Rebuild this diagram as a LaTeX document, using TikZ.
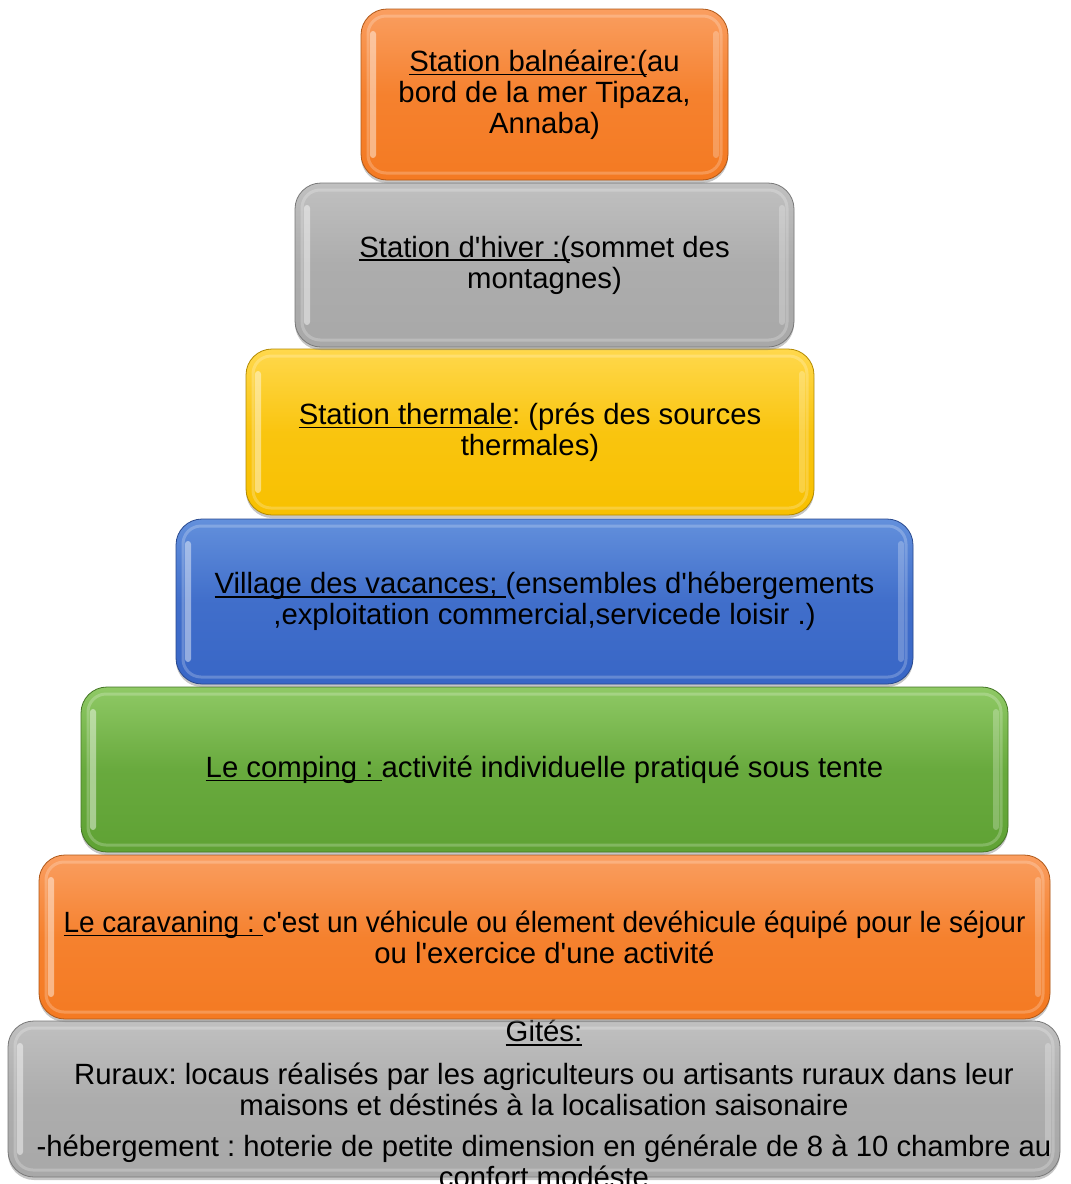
\documentclass[tikz,border=0pt]{standalone}
\usepackage{fontspec}
\setmainfont[Ligatures=TeXOff]{Liberation Sans}
\newfontfamily\narrowfont[Ligatures=TeXOff,FakeStretch=0.955]{Liberation Sans}
\usetikzlibrary{shadows}

\definecolor{orTop}{HTML}{FA9E60}
\definecolor{orBot}{HTML}{F47A22}
\definecolor{grTop}{HTML}{C0C0C0}
\definecolor{grBot}{HTML}{A8A8A8}
\definecolor{yeTop}{HTML}{FFD84C}
\definecolor{yeBot}{HTML}{F8C000}
\definecolor{blTop}{HTML}{6390DC}
\definecolor{blBot}{HTML}{3866C6}
\definecolor{gnTop}{HTML}{8FC965}
\definecolor{gnBot}{HTML}{5FA234}

\newcommand\tierfont{\fontsize{29.3}{31}\selectfont\frenchspacing}
% underline drawn as a rule just below the baseline (keeps trailing spaces)
\newsavebox\ulbox
\newcommand\ulx[1]{\sbox\ulbox{#1}\rlap{\rule[-3.8pt]{\wd\ulbox}{1.4pt}}\usebox\ulbox}

\tikzset{
  tier/.style n args={2}{
    draw=#2!72!black, line width=0.8pt, rounded corners=26pt,
    top color=#1, bottom color=#2, middle color=#2!80!#1,
    drop shadow={shadow xshift=0pt, shadow yshift=-3pt, opacity=0.45},
    inner sep=0pt, align=center, font=\tierfont, text=black,
    path picture={
      % soft bevel along the inner rim
      \draw[white, opacity=0.22, line width=3pt, rounded corners=18pt]
        ([xshift=7pt,yshift=-7pt]path picture bounding box.north west)
        rectangle ([xshift=-7pt,yshift=7pt]path picture bounding box.south east);
      % light strips on the left and right sides
      \fill[white, opacity=0.45, rounded corners=3pt]
        ([xshift=9pt,yshift=-22pt]path picture bounding box.north west)
        rectangle ([xshift=15pt,yshift=22pt]path picture bounding box.south west);
      \fill[white, opacity=0.25, rounded corners=3pt]
        ([xshift=-15pt,yshift=-22pt]path picture bounding box.north east)
        rectangle ([xshift=-9pt,yshift=22pt]path picture bounding box.south east);
    }
  },
  bodytext/.style={inner sep=0pt, align=center, font=\tierfont, text=black}
}

\begin{document}
\begin{tikzpicture}[x=1pt,y=-1pt]
  \useasboundingbox (0,0) rectangle (1071,1184);
  \fill[white] (0,0) rectangle (1071,1184);

  % bottom tier first, so the tiers above overlap it
  \node[tier={grTop}{grBot}, minimum width=1052pt, minimum height=156pt]
    (gites) at (534,1099) {};
  \node[bodytext, anchor=north] (gitestext) at (544,1020)
    {\ulx{Gités:}\\[12pt]
     Ruraux: locaus réalisés par les agriculteurs ou artisants ruraux dans leur\\
     maisons et déstinés à la localisation saisonaire\\[10pt]
     -hébergement : hoterie de petite dimension en générale de 8 à 10 chambre au\\
     confort modéste};

  \node[tier={orTop}{orBot}, minimum width=1011pt, minimum height=164pt]
    (caravaning) at (544.5,937) {\narrowfont\ulx{Le caravaning : }c'est un véhicule ou élement devéhicule équipé pour le séjour\\ou l'exercice d'une activité};

  \node[tier={gnTop}{gnBot}, minimum width=927pt, minimum height=165pt]
    (comping) at (544.5,769.5) {\ulx{Le comping : }activité individuelle pratiqué sous tente};

  \node[tier={blTop}{blBot}, minimum width=737pt, minimum height=165pt]
    (village) at (544.5,601.5) {\ulx{Village des vacances; }(ensembles d'hébergements\\,exploitation commercial,servicede loisir .)};

  \node[tier={yeTop}{yeBot}, minimum width=568pt, minimum height=166pt]
    (thermale) at (530,432) {\ulx{Station thermale}: (prés des sources\\thermales)};

  \node[tier={grTop}{grBot}, minimum width=499pt, minimum height=164pt]
    (hiver) at (544.5,265) {\ulx{Station d'hiver :(}sommet des\\montagnes)};

  \node[tier={orTop}{orBot}, minimum width=367pt, minimum height=171pt]
    (balneaire) at (544.5,94.5) {\ulx{Station balnéaire:(}au\\bord de la mer Tipaza,\\Annaba)};
\end{tikzpicture}
\end{document}
